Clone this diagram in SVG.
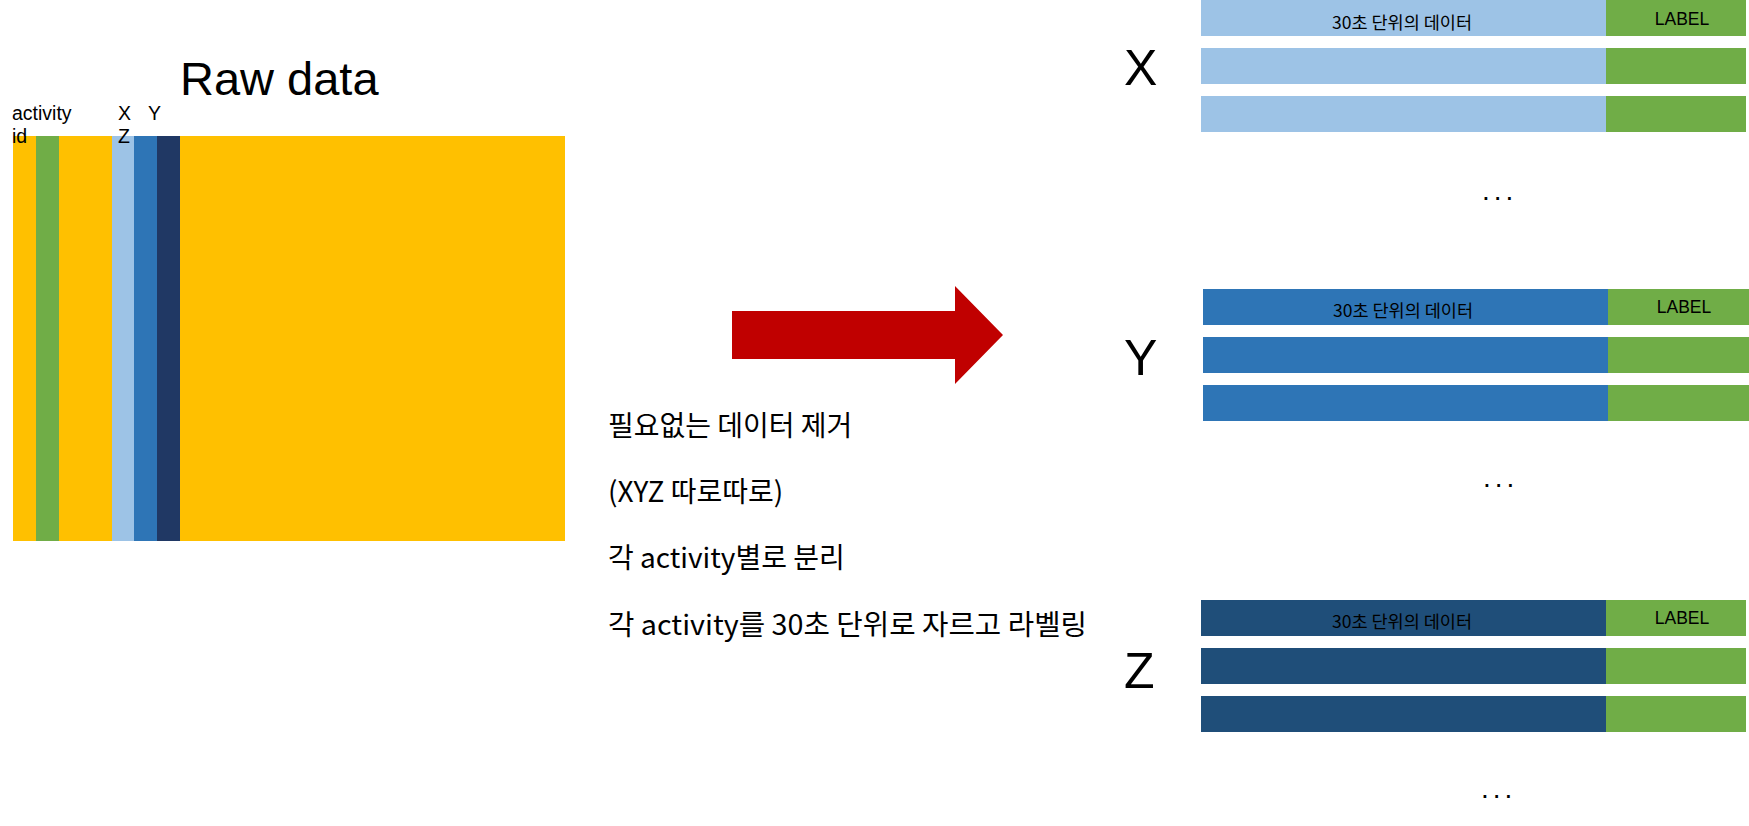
<svg xmlns="http://www.w3.org/2000/svg" width="1749" height="826" viewBox="0 0 1749 826">
<style>
.lat{font-family:"Liberation Sans",Arial,sans-serif;fill:#000}
.cell{font-family:"Noto Sans CJK KR","Liberation Sans",sans-serif;font-size:17.5px;fill:#000}
.lab{font-family:"Liberation Sans",Arial,sans-serif;font-size:17.5px;fill:#000}
.dots{font-family:"Liberation Sans",Arial,sans-serif;font-size:28px;letter-spacing:4px;fill:#000}
.axis{font-family:"Liberation Sans",Arial,sans-serif;font-size:50px;fill:#000}
.step{font-family:"Noto Sans CJK KR","Noto Sans",sans-serif;font-size:28px;fill:#000}
.g{fill:#70AD47}
</style>
<rect width="1749" height="826" fill="#fff"/>

<g id="raw-data">
  <text class="lat" x="180" y="95" font-size="47">Raw data</text>
  <rect x="13" y="136" width="552" height="405" fill="#FFC000"/>
  <rect x="36" y="136" width="23" height="405" fill="#70AD47"/>
  <rect x="112" y="136" width="22" height="405" fill="#9DC3E6"/>
  <rect x="134" y="136" width="23" height="405" fill="#2E75B6"/>
  <rect x="157" y="136" width="23" height="405" fill="#203864"/>
  <text class="lat" x="12" y="120" font-size="19.5">activity</text>
  <text class="lat" x="12" y="143" font-size="19.5">id</text>
  <text class="lat" x="118" y="120" font-size="19.5">X</text>
  <text class="lat" x="148" y="120" font-size="19.5">Y</text>
  <text class="lat" x="118" y="143" font-size="19.5">Z</text>
</g>

<g id="connectors">
  <polygon points="732,311 955,311 955,286 1003,335 955,384 955,359 732,359" fill="#C00000"/>
</g>

<g id="steps">
  <text class="step" x="608" y="436">필요없는 데이터 제거</text>
  <text class="step" x="608" y="502">(XYZ 따로따로)</text>
  <text class="step" x="608" y="568">각 activity별로 분리</text>
  <text class="step" x="608" y="635" textLength="479" lengthAdjust="spacingAndGlyphs">각 activity를 30초 단위로 자르고 라벨링</text>
</g>

<g id="x-group">
  <text class="axis" x="1124" y="85">X</text>
  <rect x="1201" y="0" width="405" height="36" fill="#9DC3E6"/>
  <rect class="g" x="1606" y="0" width="140" height="36"/>
  <rect x="1201" y="48" width="405" height="36" fill="#9DC3E6"/>
  <rect class="g" x="1606" y="48" width="140" height="36"/>
  <rect x="1201" y="96" width="405" height="36" fill="#9DC3E6"/>
  <rect class="g" x="1606" y="96" width="140" height="36"/>
  <text class="cell" x="1402" y="29" text-anchor="middle">30초 단위의 데이터</text>
  <text class="lab" x="1682" y="25" text-anchor="middle">LABEL</text>
  <text class="dots" x="1482" y="200">...</text>
</g>

<g id="y-group">
  <text class="axis" x="1124" y="375">Y</text>
  <rect x="1203" y="289" width="405" height="36" fill="#2E75B6"/>
  <rect class="g" x="1608" y="289" width="141" height="36"/>
  <rect x="1203" y="337" width="405" height="36" fill="#2E75B6"/>
  <rect class="g" x="1608" y="337" width="141" height="36"/>
  <rect x="1203" y="385" width="405" height="36" fill="#2E75B6"/>
  <rect class="g" x="1608" y="385" width="141" height="36"/>
  <text class="cell" x="1403" y="317" text-anchor="middle">30초 단위의 데이터</text>
  <text class="lab" x="1684" y="313" text-anchor="middle">LABEL</text>
  <text class="dots" x="1483" y="487">...</text>
</g>

<g id="z-group">
  <text class="axis" x="1124" y="688">Z</text>
  <rect x="1201" y="600" width="405" height="36" fill="#1F4E79"/>
  <rect class="g" x="1606" y="600" width="140" height="36"/>
  <rect x="1201" y="648" width="405" height="36" fill="#1F4E79"/>
  <rect class="g" x="1606" y="648" width="140" height="36"/>
  <rect x="1201" y="696" width="405" height="36" fill="#1F4E79"/>
  <rect class="g" x="1606" y="696" width="140" height="36"/>
  <text class="cell" x="1402" y="628" text-anchor="middle">30초 단위의 데이터</text>
  <text class="lab" x="1682" y="624" text-anchor="middle">LABEL</text>
  <text class="dots" x="1481" y="798">...</text>
</g>
</svg>
